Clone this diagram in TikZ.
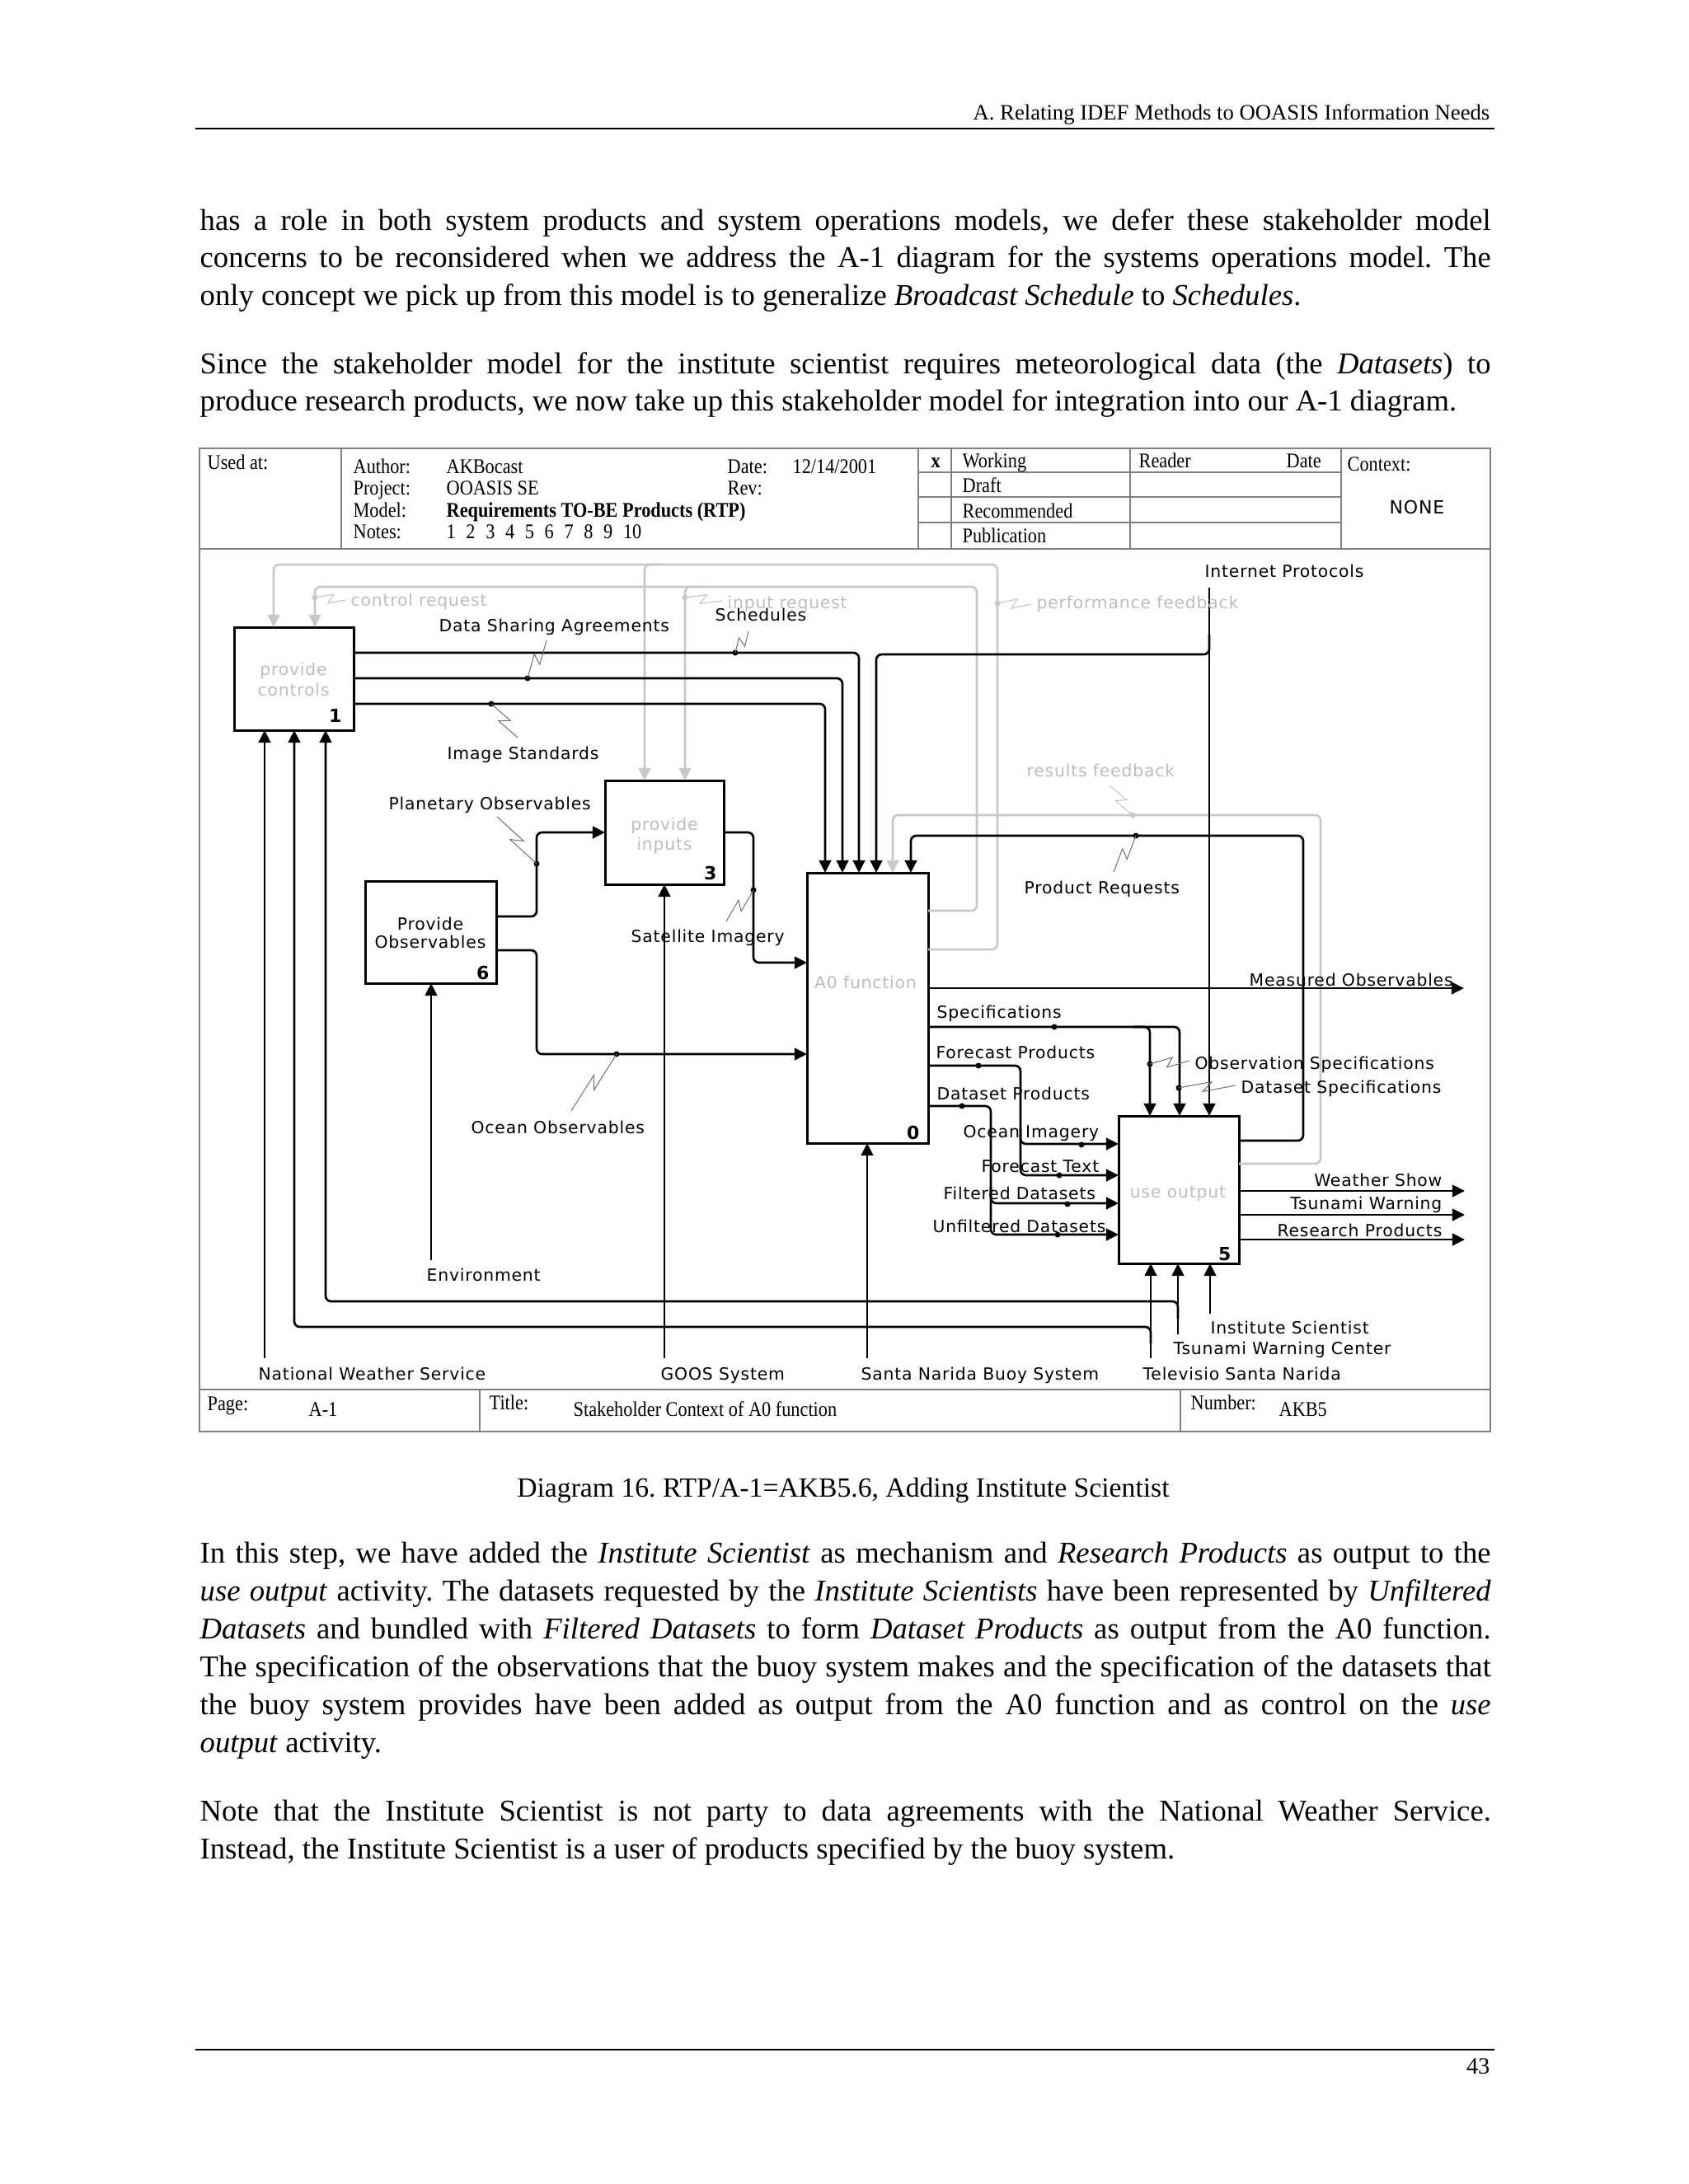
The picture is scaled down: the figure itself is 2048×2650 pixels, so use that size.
\documentclass[tikz,border=0pt]{standalone}
\usepackage{fontspec}
\setmainfont{Liberation Serif}
\newfontfamily\dsans[LetterSpace=4]{DejaVu Sans}
\newfontfamily\hdrf[FakeStretch=0.88]{Liberation Serif}
\usetikzlibrary{arrows.meta,calc}
\definecolor{gline}{HTML}{C8C8C8}
\definecolor{gtext}{HTML}{BEBEBE}
\definecolor{framec}{HTML}{808080}
\definecolor{sqc}{HTML}{707070}
\newdimen\pxu \pxu=0.10542mm
\newcommand\jline[1]{\makebox[6.5in][s]{#1}}
\newcommand\squig[3][sq]{\draw[#1] (#2) -- ($(#2)!0.58!(#3)!1.7pt!90:(#3)$) -- ($(#2)!0.42!(#3)!1.7pt!-90:(#3)$) -- (#3);}
\frenchspacing
\begin{document}
\begin{tikzpicture}[x=0.10542mm,y=-0.10542mm,
  conn/.style={line width=0.8pt, rounded corners=0.7mm},
  arr/.style={conn,-{Triangle[length=1.6mm,width=1.55mm]}},
  garr/.style={arr,color=gline},
  box/.style={draw, line width=0.9pt, inner sep=0, outer sep=0},
  lbl/.style={font=\dsans\fontsize{6.1}{7}\selectfont, inner sep=0, anchor=base west},
  rlbl/.style={lbl, anchor=base east},
  glbl/.style={lbl, text=gtext},
  clbl/.style={lbl, anchor=base},
  gclbl/.style={clbl, text=gtext},
  num/.style={font=\dsans\bfseries\fontsize{6.6}{7}\selectfont, inner sep=0, anchor=base east},
  sq/.style={draw=sqc, line width=0.3pt},
  gsq/.style={draw=gline, line width=0.35pt},
  fr/.style={draw=framec, line width=0.5pt},
  ht/.style={font=\hdrf\fontsize{7.6}{8}\selectfont, inner sep=0, anchor=base west},
  body/.style={font=\fontsize{11}{13.7}\selectfont, inner sep=0, anchor=base west}]
\fill[white] (0,0) rectangle (2048,2650);
\useasboundingbox (0,0) rectangle (2048,2650);

% ---------- page header / footer ----------
\node[font=\fontsize{8}{9}\selectfont, inner sep=0, anchor=base east] (runhead) at (1808,145) {A. Relating IDEF Methods to OOASIS Information Needs};
\draw[line width=0.6pt] (237,156) -- (1813,156);
\draw[line width=0.6pt] (237,2487) -- (1813,2487);
\node[font=\fontsize{8.5}{9}\selectfont, inner sep=0, anchor=base east] (pgno) at (1808,2516) {43};

% ---------- body text ----------
\node[body] (p1a) at (242,279) {\jline{has a role in both system products and system operations models, we defer these stakeholder model}};
\node[body] (p1b) at (242,324.5) {\jline{concerns to be reconsidered when we address the A-1 diagram for the systems operations model. The}};
\node[body] (p1c) at (242,370) {only concept we pick up from this model is to generalize \textit{Broadcast Schedule} to \textit{Schedules}.};
\node[body] (p2a) at (242,453) {\jline{Since the stakeholder model for the institute scientist requires meteorological data (the \textit{Datasets}) to}};
\node[body] (p2b) at (242,498.5) {produce research products, we now take up this stakeholder model for integration into our A-1 diagram.};

\node[font=\fontsize{10.1}{12}\selectfont, inner sep=0, anchor=base] (caption) at (1023,1816) {Diagram 16. RTP/A-1=AKB5.6, Adding Institute Scientist};

\node[body] (p3a) at (242,1896) {\jline{In this step, we have added the \textit{Institute Scientist} as mechanism and \textit{Research Products} as output to the}};
\node[body] (p3b) at (242,1942) {\jline{\textit{use output} activity. The datasets requested by the \textit{Institute Scientists} have been represented by \textit{Unfiltered}}};
\node[body] (p3c) at (242,1988) {\jline{\textit{Datasets} and bundled with \textit{Filtered Datasets} to form \textit{Dataset Products} as output from the A0 function.}};
\node[body] (p3d) at (242,2034) {\jline{The specification of the observations that the buoy system makes and the specification of the datasets that}};
\node[body] (p3e) at (242,2080) {\jline{the buoy system provides have been added as output from the A0 function and as control on the \textit{use}}};
\node[body] (p3f) at (242,2126) {\textit{output} activity.};
\node[body] (p4a) at (242,2209) {\jline{Note that the Institute Scientist is not party to data agreements with the National Weather Service.}};
\node[body] (p4b) at (242,2255) {Instead, the Institute Scientist is a user of products specified by the buoy system.};

% ---------- diagram frame ----------
\draw[fr] (242,544) rectangle (1808,1737);
\draw[fr] (242,666) -- (1808,666);
\draw[fr] (414,544) -- (414,666);
\draw[fr] (1114,544) -- (1114,666);
\draw[fr] (1154,544) -- (1154,666);
\draw[fr] (1371,544) -- (1371,666);
\draw[fr] (1627,544) -- (1627,666);
\foreach \yy in {573,603,634} \draw[fr] (1114,\yy) -- (1627,\yy);
\draw[fr] (242,1686) -- (1808,1686);
\draw[fr] (582,1686) -- (582,1737);
\draw[fr] (1432,1686) -- (1432,1737);

\node[ht] (usedat) at (251,569) {Used at:};
\node[ht] (hauth) at (428,574) {Author:};
\node[ht] (hauthv) at (541,574) {AKBocast};
\node[ht] (hdate) at (882,574) {Date:};
\node[ht] (hdatev) at (961,574) {12/14/2001};
\node[ht] (hproj) at (428,600) {Project:};
\node[ht] (hprojv) at (541,600) {OOASIS SE};
\node[ht] (hrev) at (882,600) {Rev:};
\node[ht] (hmod) at (428,627) {Model:};
\node[ht] (hmodv) at (541,627) {\bfseries Requirements TO-BE Products (RTP)};
\node[ht] (hnotes) at (428,653) {Notes:};
\node[ht] (hnotesv) at (541,653) {1\kern3.8pt 2\kern3.8pt 3\kern3.8pt 4\kern3.8pt 5\kern3.8pt 6\kern3.8pt 7\kern3.8pt 8\kern3.8pt 9\kern3.8pt 10};
\node[ht] (hx) at (1129,567) {\bfseries x};
\node[ht] (hwork) at (1167,567) {Working};
\node[ht] (hreader) at (1381,567) {Reader};
\node[ht] (hrdate) at (1560,567) {Date};
\node[ht] (hdraft) at (1167,597) {Draft};
\node[ht] (hrec) at (1167,628) {Recommended};
\node[ht] (hpub) at (1167,658) {Publication};
\node[ht] (hctx) at (1634,571) {Context:};
\node[clbl, font=\dsans\fontsize{6.6}{7}\selectfont] (hnone) at (1719,623) {NONE};
\node[ht] (fpage) at (251,1711) {Page:};
\node[ht] (fpagev) at (374,1718) {A-1};
\node[ht] (ftitle) at (593,1710) {Title:};
\node[ht] (ftitlev) at (695,1718) {Stakeholder Context of A0 function};
\node[ht] (fnum) at (1444,1710) {Number:};
\node[ht] (fnumv) at (1551,1718) {AKB5};

% ---------- boxes ----------
\node[box, minimum width=145*\pxu, minimum height=125*\pxu] (b1) at (356.5,823.5) {};
\node[box, minimum width=144*\pxu, minimum height=126*\pxu] (b3) at (806,1010) {};
\node[box, minimum width=159*\pxu, minimum height=124*\pxu] (b6) at (522.5,1131) {};
\node[box, minimum width=147*\pxu, minimum height=328*\pxu] (b0) at (1052.5,1223) {};
\node[box, minimum width=146*\pxu, minimum height=179*\pxu] (b5) at (1430,1443.5) {};

\node[gclbl] (b1t1) at (356,819) {provide};
\node[gclbl] (b1t2) at (356,844) {controls};
\node[num] (b1n) at (415,876) {1};
\node[gclbl] (b3t1) at (806,1007) {provide};
\node[gclbl] (b3t2) at (806,1031) {inputs};
\node[num] (b3n) at (870,1067) {3};
\node[clbl] (b6t1) at (522,1128) {Provide};
\node[clbl] (b6t2) at (522,1150) {Observables};
\node[num] (b6n) at (594,1188) {6};
\node[gclbl] (b0t) at (1050,1199) {A0 function};
\node[num] (b0n) at (1116,1382) {0};
\node[gclbl] (b5t) at (1429,1453) {use output};
\node[num] (b5n) at (1494,1529) {5};

% ---------- free ends ----------
\coordinate (ipS) at (1467,713);
\coordinate (nwsS) at (321,1648);
\coordinate (goosS) at (806,1648);
\coordinate (snbS) at (1052,1648);
\coordinate (tsnS) at (1396,1648);
\coordinate (twcS) at (1429,1619);
\coordinate (iscS) at (1468,1594);
\coordinate (envS) at (523,1529);
\coordinate (moE) at (1776,1199);
\coordinate (wsE) at (1777,1445);
\coordinate (twE) at (1777,1474);
\coordinate (rpE) at (1777,1504);

% ---------- gray connectors ----------
\draw[garr] (b0.east |- 0,1152) -| (1210,685) -| (b1.north -| 332,0);
\draw[garr] (800,685) -| (b3.north -| 782,0);
\draw[garr] (b0.east |- 0,1105) -| (1185,712) -| (b1.north -| 382,0);
\draw[garr] (850,712) -| (b3.north -| 831,0);
\draw[garr] (b5.east |- 0,1412) -| (1602,989) -| (b0.north -| 1083,0);

% ---------- black connectors ----------
\draw[arr] (ipS) -- (b5.north -| ipS);
\draw[arr] (1467,770) |- (1063,794) -- (b0.north -| 1063,0);
\draw[arr] (b1.east |- 0,792) -| (b0.north -| 1042,0);
\draw[arr] (b1.east |- 0,823) -| (b0.north -| 1022,0);
\draw[arr] (b1.east |- 0,854) -| (b0.north -| 1001,0);
\draw[arr] (b5.east |- 0,1384) -| (1581,1014) -| (b0.north -| 1105,0);
\draw[arr] (b6.east |- 0,1112) -| (651,1010) -- (b3.west |- 0,1010);
\draw[arr] (b6.east |- 0,1153) -| (651,1279) -- (b0.west |- 0,1279);
\draw[arr] (b3.east |- 0,1010) -| (914,1168) -- (b0.west |- 0,1168);
\draw[arr] (goosS) -- (b3.south -| goosS);
\draw[arr] (snbS) -- (b0.south -| snbS);
\draw[arr] (envS) -- (b6.south -| envS);
\draw[arr] (nwsS) -- (b1.south -| nwsS);
\draw[arr] (tsnS) -- (b5.south -| tsnS);
\draw[arr] (1396,1630) |- (357,1610) -- (b1.south -| 357,0);
\draw[arr] (twcS) -- (b5.south -| twcS);
\draw[arr] (1429,1600) |- (395,1579) -- (b1.south -| 395,0);
\draw[arr] (iscS) -- (b5.south -| iscS);
\draw[arr] (b0.east |- 0,1199) -- (moE);
\draw[arr] (b0.east |- 0,1246) -| (b5.north -| 1431,0);
\draw[arr] (1375,1246) -| (b5.north -| 1395,0);
\draw[arr] (b0.east |- 0,1293) -| (1238,1388) -- (b5.west |- 0,1388);
\draw[arr] (1238,1370) |- (b5.west |- 0,1426);
\draw[arr] (b0.east |- 0,1342) -| (1202,1460) -- (b5.west |- 0,1460);
\draw[arr] (1202,1440) |- (b5.west |- 0,1498);
\draw[arr] (b5.east |- 0,1445) -- (wsE);
\draw[arr] (b5.east |- 0,1474) -- (twE);
\draw[arr] (b5.east |- 0,1504) -- (rpE);

% ---------- dots and squiggles ----------
\coordinate (dIS) at (596,854);   \coordinate (sIS) at (628,895);
\coordinate (dDS) at (640,823);   \coordinate (sDS) at (663,777);
\coordinate (dSC) at (892,792);   \coordinate (sSC) at (908,766);
\coordinate (dPO) at (651,1048);  \coordinate (sPO) at (603,991);
\coordinate (dSI) at (914,1080);  \coordinate (sSI) at (881,1118);
\coordinate (dOO) at (748,1279);  \coordinate (sOO) at (693,1348);
\coordinate (dPR) at (1378,1014); \coordinate (sPR) at (1351,1058);
\coordinate (dOS) at (1395,1291); \coordinate (sOS) at (1443,1287);
\coordinate (dDSp) at (1430,1320); \coordinate (sDSp) at (1499,1317);
\coordinate (dSp) at (1279,1246);
\coordinate (dFP) at (1187,1293);
\coordinate (dDP) at (1167,1342);
\coordinate (dOI) at (1312,1389);
\coordinate (dFT) at (1285,1426);
\coordinate (dFD) at (1295,1461);
\coordinate (dUD) at (1283,1498);
\foreach \d in {dIS,dDS,dSC,dPO,dSI,dOO,dPR,dOS,dDSp,dSp,dFP,dDP,dOI,dFT,dFD,dUD}
  \fill (\d) circle[radius=0.37mm];
\squig{dIS}{sIS}
\squig{dDS}{sDS}
\squig{dSC}{sSC}
\squig{dPO}{sPO}
\squig{dSI}{sSI}
\squig{dOO}{sOO}
\squig{dPR}{sPR}
\squig{dOS}{sOS}
\squig{dDSp}{sDSp}

\coordinate (gdCR) at (382,725);  \coordinate (gsCR) at (420,728);
\coordinate (gdIR) at (831,725);  \coordinate (gsIR) at (876,729);
\coordinate (gdPF) at (1210,732); \coordinate (gsPF) at (1251,733);
\coordinate (gdRF) at (1374,989); \coordinate (gsRF) at (1346,953);
\foreach \d in {gdCR,gdIR,gdPF,gdRF}
  \fill[gline] (\d) circle[radius=0.37mm];
\squig[gsq]{gdCR}{gsCR}
\squig[gsq]{gdIR}{gsIR}
\squig[gsq]{gdPF}{gsPF}
\squig[gsq]{gdRF}{gsRF}

% ---------- labels ----------
\node[glbl] (lcr) at (425,735) {control request};
\node[glbl] (lir) at (882,738) {input request};
\node[glbl] (lpf) at (1257,738) {performance feedback};
\node[glbl] (lrf) at (1245,942) {results feedback};
\node[lbl] (lip) at (1461,700) {Internet Protocols};
\node[lbl] (lds) at (532,766) {Data Sharing Agreements};
\node[lbl] (lsc) at (867,753) {Schedules};
\node[lbl] (lis) at (542,921) {Image Standards};
\node[lbl] (lpo) at (471,982) {Planetary Observables};
\node[lbl] (lpr) at (1242,1084) {Product Requests};
\node[lbl] (lsi) at (765,1143) {Satellite Imagery};
\node[lbl] (lmo) at (1515,1196) {Measured Observables};
\node[lbl] (lsp) at (1136,1235) {Specifications};
\node[lbl] (lfp) at (1135,1284) {Forecast Products};
\node[lbl] (los) at (1449,1297) {Observation Specifications};
\node[lbl] (ldsp) at (1505,1326) {Dataset Specifications};
\node[lbl] (ldp) at (1136,1334) {Dataset Products};
\node[lbl] (loo) at (571,1375) {Ocean Observables};
\node[lbl] (loi) at (1168,1380) {Ocean Imagery};
\node[lbl] (lft) at (1190,1422) {Forecast Text};
\node[lbl] (lfd) at (1144,1455) {Filtered Datasets};
\node[lbl] (lud) at (1131,1495) {Unfiltered Datasets};
\node[rlbl] (lws) at (1750,1439) {Weather Show};
\node[rlbl] (ltw) at (1750,1467) {Tsunami Warning};
\node[rlbl] (lrp) at (1750,1500) {Research Products};
\node[lbl] (lenv) at (517,1554) {Environment};
\node[lbl] (lisc) at (1468,1618) {Institute Scientist};
\node[lbl] (ltwc) at (1423,1643) {Tsunami Warning Center};
\node[lbl] (lnws) at (313,1674) {National Weather Service};
\node[lbl] (lgoos) at (801,1674) {GOOS System};
\node[lbl] (lsnb) at (1044,1674) {Santa Narida Buoy System};
\node[lbl] (ltsn) at (1386,1674) {Televisio Santa Narida};
\end{tikzpicture}
\end{document}
